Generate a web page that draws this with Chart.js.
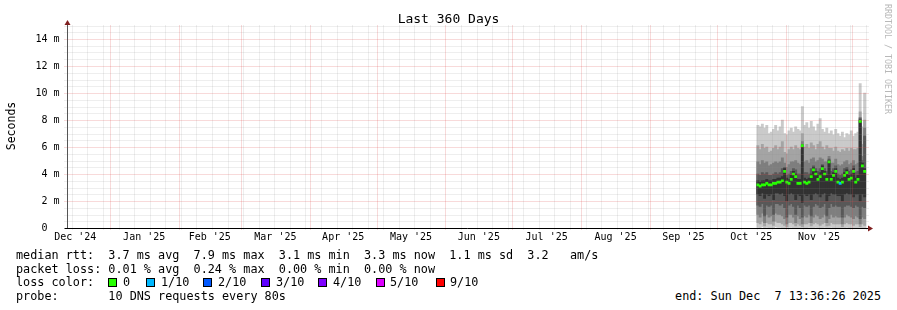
<!DOCTYPE html>
<html><head><meta charset="utf-8">
<script src="https://cdn.jsdelivr.net/npm/chart.js@4.4.1/dist/chart.umd.min.js"></script>
<style>
html,body{margin:0;padding:0;background:#fff;}
#wrap{position:relative;width:897px;height:310px;overflow:hidden;font-family:"DejaVu Sans Mono",monospace;color:#000;background:#fff;}
#c{position:absolute;left:0;top:0;}
.t{position:absolute;white-space:pre;font-size:11.8px;line-height:14px;}
.sq{position:absolute;width:7px;height:7px;border:1px solid #000;}
#title{position:absolute;left:0;width:897px;top:11px;text-align:center;font-size:13px;line-height:16px;white-space:pre;}
#ylab{position:absolute;left:-29px;top:119px;width:80px;text-align:center;font-size:11.5px;line-height:14px;transform:rotate(-90deg);}
#wm{position:absolute;left:883px;top:4px;writing-mode:vertical-rl;font-size:8.3px;line-height:10px;color:#b8b8b8;white-space:pre;}
</style></head>
<body><div id="wrap">
<canvas id="c" width="897" height="250"></canvas>
<div id="title">Last 360 Days</div>
<div id="ylab">Seconds</div>
<div id="wm">RRDTOOL / TOBI OETIKER</div>
<div id="legend"></div>
</div>
<script>
// ---- categories / ticks ----
const monthLabels = ["Dec '24","Jan '25","Feb '25","Mar '25","Apr '25","May '25","Jun '25","Jul '25","Aug '25","Sep '25","Oct '25","Nov '25"];
const yTickValues = [0,2,4,6,8,10,12,14];
const firstBinDate = [2025,9,19]; // Oct 19 2025, one bin per day
// ---- series (milliseconds) ----
const medianRtt = [3.2,3.1,3.2,3.2,3.3,3.2,3.2,3.3,3.3,3.4,3.4,3.5, 4.2,3.4,3.3,3.6,4.0,3.8,3.3,3.3, 6.1, 3.4,3.3,3.4,3.8,4.3,4.0,3.6,3.8, 4.4,4.0,3.6,4.9,3.6,3.9,4.2,3.4, 3.3,3.4,3.9,4.1,3.6,3.7,4.2,3.4,3.6, 7.9,4.6,4.2];
const lossTenths = [0,0,0,0,0,0,0,0,0,0,0,0, 0,0,0,0,0,0,0,0, 0, 0,0,0,0,0,0,0,0, 0,0,0,0,0,0,0,0, 1,0,0,0,0,0,0,0,0, 0,0,0];
const smokeTop1 = [7.6,7.5,7.7,7.4,7.6,7.0,7.1,7.3,7.6,7.2,7.5,8.0, 7.0,6.9,7.2,7.4,7.1,7.5,7.3,7.2, 9.0, 7.6,7.8,7.4,7.9,7.5,7.2,7.7,8.1, 7.3,7.1,7.4,7.0,7.2,6.9,7.3,7.0, 6.8,7.1,6.7,7.0,6.9,7.2,6.8,7.0,7.1, 10.7,7.5,10.0];
const smokeTop2 = [6.1,5.8,6.2,5.9,6.0,5.6,5.7,5.9,6.1,5.8,6.0,6.4, 5.6,5.5,5.8,6.0,5.8,6.1,5.9,5.8, 7.0, 6.0,6.2,5.9,6.3,6.1,5.8,6.2,6.4, 6.0,5.8,6.1,5.9,5.9,5.7,6.0,5.7, 5.6,5.8,5.7,5.9,5.7,5.9,5.8,5.8,5.9, 8.6,6.2,8.0];
const smokeTop3 = [4.9,4.7,5.0,4.8,4.9,4.6,4.7,4.8,4.9,4.8,4.9,5.2, 4.8,4.5,4.7,4.9,4.9,5.0,4.8,4.7, 6.4, 4.9,5.0,4.8,5.1,5.2,4.9,5.0,5.2, 5.1,4.9,4.9,5.3,4.8,4.8,5.1,4.7, 4.6,4.7,4.9,5.0,4.7,4.8,5.0,4.7,4.8, 8.2,5.3,7.4];
const smokeTop4 = [4.0,3.9,4.1,4.0,4.1,3.9,3.9,4.0,4.1,4.0,4.1,4.4, 4.5,3.9,4.0,4.2,4.4,4.3,4.0,4.0, 6.2, 4.1,4.1,4.0,4.4,4.6,4.4,4.2,4.4, 4.7,4.4,4.2,5.1,4.2,4.4,4.6,4.0, 3.9,4.0,4.4,4.5,4.2,4.3,4.6,4.1,4.2, 8.1,5.0,6.8];
const smokeTop5 = [3.5,3.4,3.5,3.5,3.6,3.5,3.5,3.6,3.6,3.7,3.7,3.8, 4.4,3.7,3.6,3.9,4.2,4.0,3.6,3.6, 6.1, 3.7,3.6,3.7,4.0,4.5,4.2,3.9,4.1, 4.6,4.2,3.9,5.0,3.9,4.1,4.4,3.7, 3.6,3.7,4.1,4.3,3.9,4.0,4.4,3.7,3.9, 8.0,4.8,4.4];
const smokeBot5 = [2.5,2.4,2.6,2.2,2.5,2.4,2.5,2.1,2.6,2.6,2.5,2.6, 2.4,2.0,2.5,2.6,2.5,2.1,2.5,2.4, 1.9, 2.5,2.4,2.5,2.1,2.5,2.6,2.5,2.3, 2.5,2.6,2.0,2.4,2.6,2.5,2.5,2.4, 2.4,2.0,2.5,2.6,2.5,2.5,2.3,2.5,2.5, 2.0,2.5,2.3];
const smokeBot4 = [1.7,1.6,1.8,0.9,1.7,1.6,1.7,1.0,1.8,1.8,1.7,1.8, 1.5,0.8,1.7,1.8,1.6,1.0,1.7,1.5, 0.8, 1.7,1.6,1.7,0.9,1.6,1.8,1.7,1.5, 1.6,1.8,0.9,1.5,1.8,1.6,1.7,1.6, 1.6,0.8,1.6,1.7,1.7,1.6,1.5,1.7,1.6, 0.7,1.6,1.5];
const smokeBot3 = [1.0,0.8,1.1,0.4,1.0,0.8,0.9,0.5,1.1,1.0,1.0,0.9, 0.7,0.3,1.0,1.0,0.8,0.4,0.9,0.7, 0.3, 0.9,0.8,1.0,0.4,0.8,1.0,0.9,0.7, 0.8,1.0,0.4,0.7,1.0,0.8,0.9,0.8, 0.8,0.3,0.8,1.0,0.9,0.8,0.7,0.9,0.8, 0.3,0.8,0.7];
const smokeBot2 = [0.4,0.3,0.5,0.15,0.4,0.3,0.3,0.2,0.5,0.4,0.4,0.3, 0.2,0.1,0.4,0.4,0.3,0.15,0.3,0.2, 0.1, 0.3,0.3,0.4,0.15,0.3,0.4,0.3,0.2, 0.3,0.4,0.15,0.2,0.4,0.3,0.3,0.3, 0.3,0.1,0.3,0.4,0.3,0.3,0.2,0.3,0.3, 0.1,0.3,0.2];
const smokeBot1 = [0.05,0.03,0.08,0.02,0.05,0.03,0.03,0.02,0.08,0.05,0.05,0.03, 0.02,0.02,0.05,0.05,0.03,0.02,0.03,0.02, 0.02, 0.03,0.03,0.05,0.02,0.03,0.05,0.03,0.02, 0.03,0.05,0.02,0.02,0.05,0.03,0.03,0.03, 0.03,0.02,0.03,0.05,0.03,0.03,0.02,0.03,0.03, 0.02,0.03,0.02];
// ---- legend texts ----
const legendRows = [
  [[16,"median rtt:  3.7 ms avg  7.9 ms max  3.1 ms min  3.3 ms now  1.1 ms sd  3.2   am/s"]],
  [[16,"packet loss: 0.01 % avg  0.24 % max  0.00 % min  0.00 % now"]],
  [[16,"loss color:"],[123,"0"],[161,"1/10"],[218,"2/10"],[276,"3/10"],[333,"4/10"],[390,"5/10"],[450,"9/10"]],
  [[16,"probe:       10 DNS requests every 80s"]]
];
const lossColors = ["#26ff00","#00b8ff","#0059ff","#5e00ff","#7e00ff","#dd00ff","#ff0000"];
const lossSwatchX = [108,146,203,261,318,376,436];
const endText = "end: Sun Dec  7 13:36:26 2025";

// ---- build legend (HTML text) ----
const lg = document.getElementById('legend');
const rowTop = [248,261.5,275,288.5];
legendRows.forEach((row,ri)=>row.forEach(([x,s])=>{
  const d=document.createElement('div');d.className='t';d.style.left=x+'px';d.style.top=rowTop[ri]+'px';d.textContent=s;lg.appendChild(d);
}));
lossSwatchX.forEach((x,i)=>{const d=document.createElement('div');d.className='sq';d.style.left=x+'px';d.style.top='278px';d.style.background=lossColors[i];lg.appendChild(d);});
{const d=document.createElement('div');d.className='t';d.style.right=(897-881)+'px';d.style.top=rowTop[3]+'px';d.textContent=endText;lg.appendChild(d);}

// ---- time helpers ----
const START = Date.UTC(2024,11,12,13,36,26), DAY = 86400000;
const dayOf = (y,m,d)=> (Date.UTC(y,m,d)-START)/DAY;
const monthStarts = []; for(let i=0;i<12;i++) monthStarts.push(dayOf(2025,i,1));
const monthMids = [dayOf(2024,11,1)+15.5]; for(let i=0;i<11;i++){const a=dayOf(2025,i,1),b=dayOf(2025,i+1,1);monthMids.push((a+b)/2);}
const weekLines = []; for(let d=dayOf(2024,11,15); d<360; d+=7) weekLines.push(d);
const x0 = dayOf(...firstBinDate)+0.5;
const xs = medianRtt.map((_,i)=>x0+i);

const band = (lo,hi)=> xs.map((x,i)=>({x, y:[lo[i],hi[i]]}));
const smokeCols = ['#323232','#585858','#7e7e7e','#a4a4a4','#cacaca'];
const common = {barPercentage:1, categoryPercentage:1, borderWidth:0, grouped:false};
const datasets = [
  {label:'median', data: xs.map((x,i)=>({x, y:[medianRtt[i]-0.075, medianRtt[i]+0.075]})), backgroundColor: lossTenths.map(l=>lossColors[Math.min(l,6)]), order:0, ...common},
  {label:'s5', data: band(smokeBot5,smokeTop5), backgroundColor: smokeCols[0], order:1, ...common},
  {label:'s4', data: band(smokeBot4,smokeTop4), backgroundColor: smokeCols[1], order:2, ...common},
  {label:'s3', data: band(smokeBot3,smokeTop3), backgroundColor: smokeCols[2], order:3, ...common},
  {label:'s2', data: band(smokeBot2,smokeTop2), backgroundColor: smokeCols[3], order:4, ...common},
  {label:'s1', data: band(smokeBot1,smokeTop1), backgroundColor: smokeCols[4], order:5, ...common},
];

const FONT = "'DejaVu Sans Mono', monospace";
const rrdPlugin = {
  id:'rrd',
  afterDatasetsDraw(chart){
    const {ctx, chartArea:a, scales:{x,y}} = chart;
    ctx.save();
    ctx.lineWidth = 1;
    const hline=(py,x1,x2)=>{ctx.beginPath();ctx.moveTo(x1,py);ctx.lineTo(x2,py);ctx.stroke();};
    const vline=(px,y1,y2)=>{ctx.beginPath();ctx.moveTo(px,y1);ctx.lineTo(px,y2);ctx.stroke();};
    ctx.setLineDash([1,1]);
    ctx.strokeStyle='rgba(143,143,143,0.3)';
    for(let v=0.5; v<=15.001; v+=0.5){ if(Math.abs(v/2-Math.round(v/2))<1e-6 && v<=14) continue; hline(Math.round(y.getPixelForValue(v))+0.5, a.left-2, a.right+2); }
    weekLines.forEach(d=>{ if(monthStarts.some(m=>Math.abs(m-d)<0.3)) return; vline(Math.round(x.getPixelForValue(d))+0.5, a.top, a.bottom+2); });
    ctx.strokeStyle='rgba(222,79,79,0.42)';
    yTickValues.forEach(v=>{ if(v===0) return; hline(Math.round(y.getPixelForValue(v))+0.5, a.left-2, a.right+2); });
    monthStarts.forEach(d=>vline(Math.round(x.getPixelForValue(d))+0.5, a.top, a.bottom+2));
    ctx.setLineDash([]);
    // axes
    const ax = Math.round(a.left)+0.5, ay = Math.round(y.getPixelForValue(0))+0.5;
    ctx.strokeStyle='#555';
    vline(ax, a.top-3, ay);
    ctx.strokeStyle='#000';
    hline(ay, a.left-2, a.right+4);
    // arrows
    ctx.fillStyle='#801f1f';
    ctx.beginPath();ctx.moveTo(ax-3,a.top-0.5);ctx.lineTo(ax+3,a.top-0.5);ctx.lineTo(ax,a.top-5.5);ctx.closePath();ctx.fill();
    ctx.beginPath();ctx.moveTo(a.right+1,ay-3);ctx.lineTo(a.right+1,ay+3);ctx.lineTo(a.right+6,ay);ctx.closePath();ctx.fill();
    ctx.restore();
  }
};

new Chart(document.getElementById('c'), {
  type:'bar',
  data:{datasets},
  options:{
    responsive:false, animation:false, events:[],
    layout:{padding:{left:0, right:30, top:25.5, bottom:0}},
    plugins:{legend:{display:false}, tooltip:{enabled:false}, title:{display:false}},
    scales:{
      x:{type:'linear', min:0, max:360, offset:false,
         grid:{display:false, drawTicks:false}, border:{display:false},
         afterFit(s){s.height=22;},
         afterBuildTicks(s){s.ticks = monthMids.map(v=>({value:v}));},
         ticks:{autoSkip:false, maxRotation:0, padding:3, color:'#000', font:{family:FONT,size:10},
           callback:(v,i)=>monthLabels[i]}},
      y:{type:'linear', min:0, max:15,
         grid:{display:false, drawTicks:false}, border:{display:false},
         afterFit(s){s.width=66.5;},
         afterBuildTicks(s){s.ticks = yTickValues.map(v=>({value:v}));},
         ticks:{padding:7, color:'#000', font:{family:FONT,size:10},
           callback:v=> v===0 ? '0  ' : v+' m'}}
    }
  },
  plugins:[rrdPlugin]
});
</script>
</body></html>
